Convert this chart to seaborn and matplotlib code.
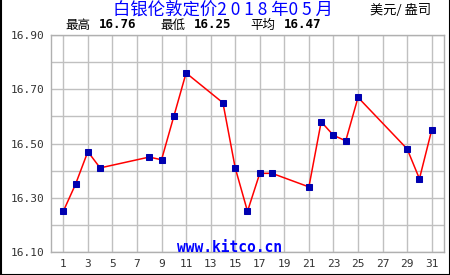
import matplotlib
matplotlib.use("Agg")
import matplotlib.pyplot as plt
import seaborn as sns
import pandas as pd

days = [1, 2, 3, 4, 8, 9, 10, 11, 14, 15, 16, 17, 18, 21, 22, 23, 24, 25, 29, 30, 31]
prices = [16.25, 16.35, 16.47, 16.41, 16.45, 16.44, 16.60, 16.76, 16.65, 16.41, 16.25,
          16.39, 16.39, 16.34, 16.58, 16.53, 16.51, 16.67, 16.48, 16.37, 16.55]
x_ticks = list(range(1, 32, 2))
y_ticks = [16.10, 16.30, 16.50, 16.70, 16.90]
title = "白银伦敦定价2 0 1 8 年0 5 月"
unit = "美元/ 盎司"
stats_labels = ["最高", "最低", "平均"]
stats_values = ["16.76", "16.25", "16.47"]

sns.set_style("white")
plt.rcParams['font.family'] = ['Noto Sans CJK SC', 'DejaVu Sans']

df = pd.DataFrame({"day": days, "price": prices})

fig = plt.figure(figsize=(4.5, 2.75), dpi=100)
ax = fig.add_axes([51/450, 1-252/275, (444-51)/450, (252-35)/275])

ax.set_xlim(0, 32)
ax.set_ylim(16.10, 16.90)
for yv in [16.1 + 0.1*i for i in range(9)]:
    ax.axhline(yv, color="#c0c0c0", lw=1, zorder=0)
for xv in x_ticks:
    ax.axvline(xv, color="#c0c0c0", lw=1, zorder=0)

sns.lineplot(data=df, x="day", y="price", ax=ax, color="#ff0000", lw=1.1,
             marker="s", markersize=4.3, markerfacecolor="#0000b0",
             markeredgecolor="#0000b0", zorder=3)

ax.set_xticks(x_ticks)
ax.set_xticklabels([str(v) for v in x_ticks])
ax.set_yticks(y_ticks)
ax.set_yticklabels([f"{v:.2f}" for v in y_ticks])
ax.tick_params(axis="both", length=0, labelsize=8, labelcolor="#333333", pad=5)
for lab in ax.get_xticklabels() + ax.get_yticklabels():
    lab.set_family("DejaVu Sans Mono")
ax.set_xlabel("")
ax.set_ylabel("")
for s in ax.spines.values():
    s.set_color("#b0b0b0")
    s.set_linewidth(1)

fig.text(230/450, 1-247/275, "www.kitco.cn", ha="center", va="center",
         color="#0000ff", fontsize=10.5, fontweight="bold", family="DejaVu Sans Mono")

fig.text(223/450, 1-10/275, title, ha="center", va="center", color="#0000ff", fontsize=12.5)
fig.text(401/450, 1-10/275, unit, ha="center", va="center", color="black", fontsize=9.5)

xs = [65, 160, 250]
for xp, lab, val in zip(xs, stats_labels, stats_values):
    fig.text(xp/450, 1-25/275, lab, ha="left", va="center", fontsize=9, color="black")
    fig.text((xp+34)/450, 1-25/275, val, ha="left", va="center", fontsize=9,
             color="black", fontweight="bold", family="DejaVu Sans Mono")

# outer border (left, right, bottom)
fig.add_artist(plt.Line2D([0.5/450, 0.5/450], [0, 1], color="black", lw=1.5, transform=fig.transFigure))
fig.add_artist(plt.Line2D([449.5/450, 449.5/450], [0, 1], color="black", lw=1.5, transform=fig.transFigure))
fig.add_artist(plt.Line2D([0, 1], [0.5/275, 0.5/275], color="black", lw=1.5, transform=fig.transFigure))

fig.savefig("out.png", dpi=100)
